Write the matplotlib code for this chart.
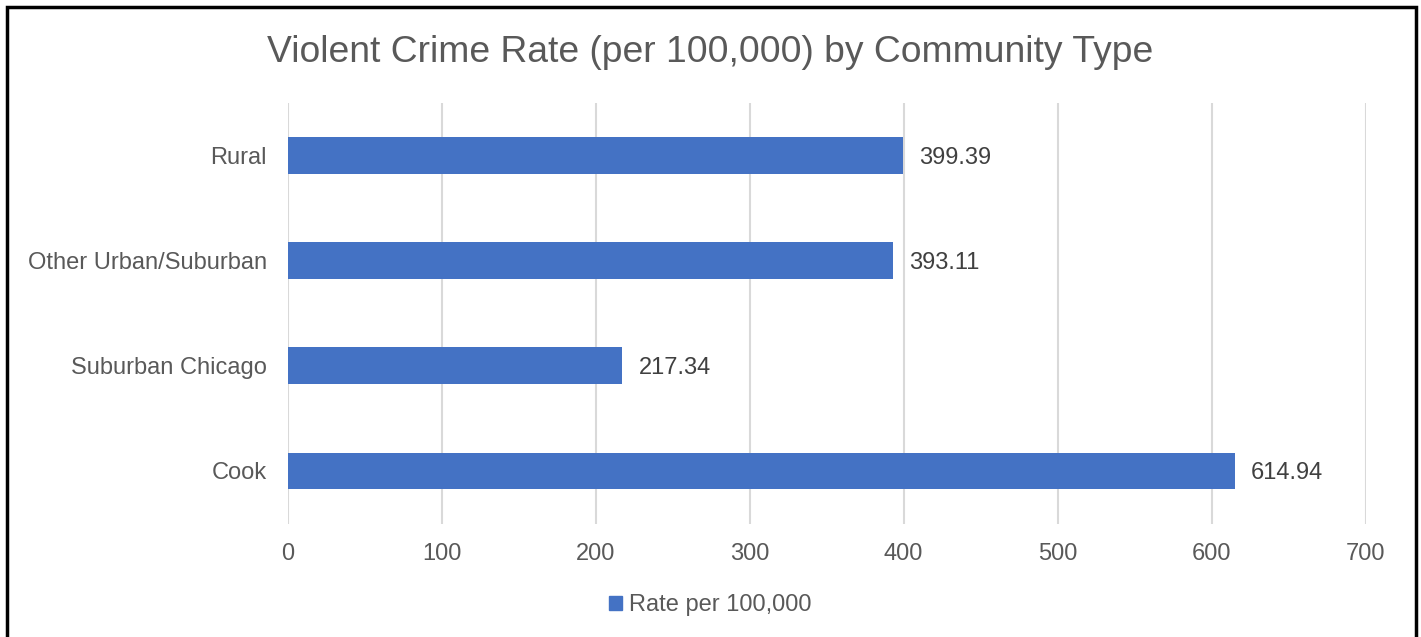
import matplotlib.pyplot as plt
from matplotlib.patches import Rectangle, Patch

plt.rcParams['font.family'] = ['Liberation Sans', 'DejaVu Sans']

# Community types listed bottom to top
categories = ["Cook", "Suburban Chicago", "Other Urban/Suburban", "Rural"]
rates = [614.94, 217.34, 393.11, 399.39]
x_ticks = [0, 100, 200, 300, 400, 500, 600, 700]

bar_color = "#4472C4"
text_color = "#595959"
grid_color = "#D9D9D9"

fig = plt.figure(figsize=(14.21, 6.37), dpi=100)
ax = fig.add_axes([0.2025, 0.178, 0.7585, 0.661])

y = range(len(categories))
ax.barh(y, rates, height=0.35, color=bar_color, zorder=3)

for yi, v in zip(y, rates):
    ax.text(v + 10.5, yi, f"{v:.2f}", va="center_baseline", ha="left",
            fontsize=17, color="#404040")

ax.set_xlim(0, 700)
ax.set_ylim(-0.5, len(categories) - 0.5)
ax.set_xticks(x_ticks)
ax.set_yticks(list(y))
ax.set_yticklabels(categories)
ax.tick_params(axis="both", length=0, labelsize=17, labelcolor=text_color)
ax.tick_params(axis="x", pad=14)
ax.tick_params(axis="y", pad=15)
ax.grid(axis="x", color=grid_color, linewidth=1.5, zorder=0)
for s in ax.spines.values():
    s.set_visible(False)

fig.text(0.5, 1 - 62.3 / 637, "Violent Crime Rate (per 100,000) by Community Type",
         fontsize=26.8, color=text_color, ha="center", va="baseline")

fig.legend(handles=[Patch(color=bar_color, label="Rate per 100,000")],
           loc="center", bbox_to_anchor=(0.5, 1 - 605 / 637), frameon=False,
           fontsize=17, labelcolor=text_color, handlelength=0.55,
           handleheight=0.55, handletextpad=0.3)

# outer frame around the chart
fig.patches.append(Rectangle((7 / 1421, -0.05), 1409 / 1421, 1.05 - 7 / 637,
                             transform=fig.transFigure, fill=False,
                             edgecolor="black", linewidth=2.5))

fig.savefig("out.png", dpi=100, facecolor="white")
